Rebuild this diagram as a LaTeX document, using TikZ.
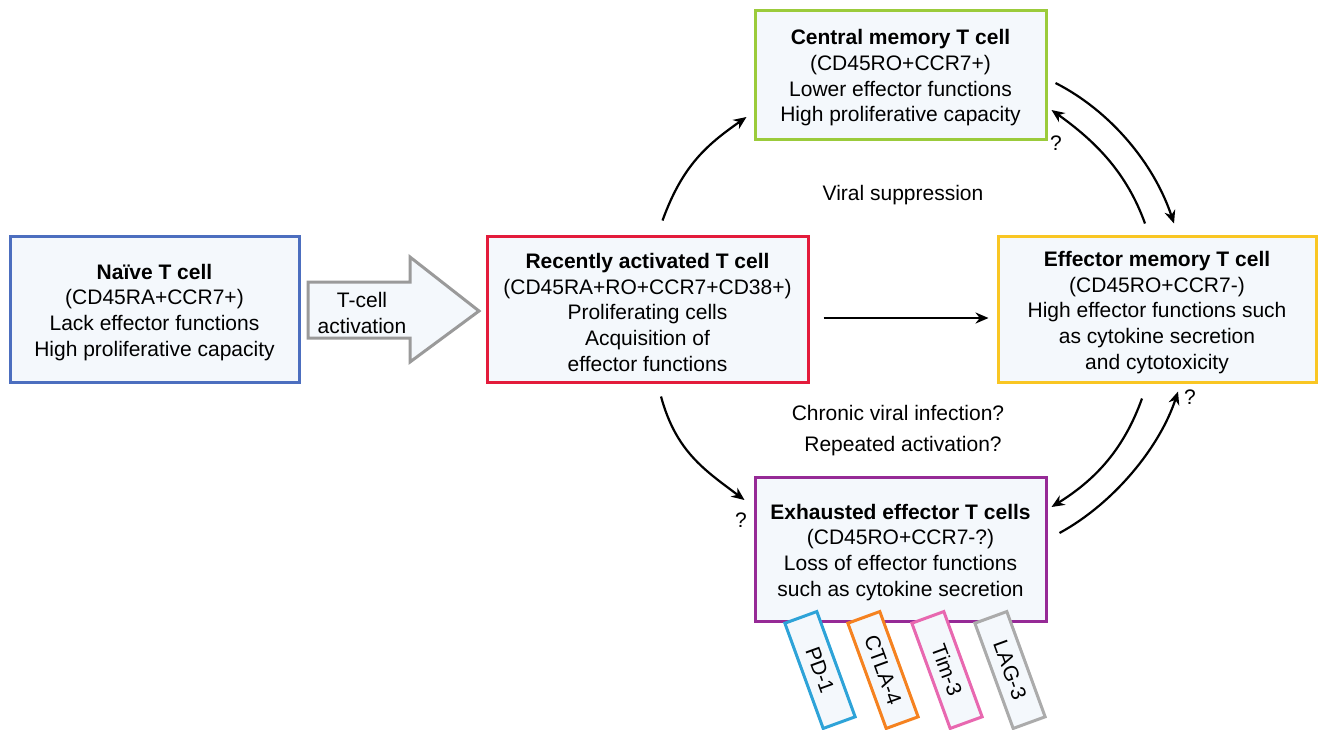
\documentclass[tikz,border=0pt]{standalone}
\usepackage{fontspec}
\setmainfont{Liberation Sans}
\usetikzlibrary{arrows.meta,calc}
\definecolor{cnaive}{HTML}{4C6EBF}
\definecolor{cred}{HTML}{E31B3B}
\definecolor{cgreen}{HTML}{9BCB3B}
\definecolor{cyellow}{HTML}{F9C623}
\definecolor{cpurple}{HTML}{962A96}
\definecolor{cfill}{HTML}{F4F8FC}
\definecolor{cgray}{HTML}{9A9A9A}
\definecolor{cpd}{HTML}{2EA3D8}
\definecolor{cctla}{HTML}{F58220}
\definecolor{ctim}{HTML}{E868B0}
\definecolor{clag}{HTML}{ABABAB}
\newcommand{\topstrut}{\rule{0pt}{22pt}}
\begin{document}
\begin{tikzpicture}[x=1pt,y=-1pt,
  box/.style={draw, line width=3pt, fill=cfill, align=center, inner sep=0pt, font=\fontsize{21}{25.7}\selectfont},
  arr/.style={line width=2.2pt, -{Stealth[length=13pt,width=11pt]}},
  lbl/.style={font=\fontsize{21}{25.5}\selectfont, inner sep=0pt, align=center},
  rcp/.style={draw, line width=3pt, fill=cfill, rotate=-70, minimum width=112pt, minimum height=34pt, inner sep=0pt, font=\fontsize{21}{25}\selectfont},
  bigarrow/.style={draw=cgray, line width=3pt, fill=cfill, line join=miter}]
\useasboundingbox (0,0) rectangle (1322,729);

% boxes
\node[box, draw=cnaive, minimum width=289pt, minimum height=146pt] (naive) at (154.5,309)
  {\topstrut\textbf{Naïve T cell}\\(CD45RA+CCR7+)\\Lack effector functions\\High proliferative capacity};
\node[box, draw=cred, minimum width=321pt, minimum height=146pt] (rec) at (647.5,309)
  {\topstrut\textbf{Recently activated T cell}\\(CD45RA+RO+CCR7+CD38+)\\Proliferating cells\\Acquisition of\\effector functions};
\node[box, draw=cgreen, minimum width=291pt, minimum height=129pt] (cen) at (900.5,74.5)
  {\topstrut\textbf{Central memory T cell}\\(CD45RO+CCR7+)\\Lower effector functions\\High proliferative capacity};
\node[box, draw=cyellow, minimum width=318pt, minimum height=146pt] (eff) at (1157,309)
  {\topstrut\textbf{Effector memory T cell}\\(CD45RO+CCR7-)\\High effector functions such\\as cytokine secretion\\and cytotoxicity};
\node[box, draw=cpurple, minimum width=291pt, minimum height=144pt] (exh) at (900.5,549)
  {\topstrut\textbf{Exhausted effector T cells}\\(CD45RO+CCR7-?)\\Loss of effector functions\\such as cytokine secretion};

% receptors
\node[rcp, draw=cpd] (pd) at (820,670) {PD-1};
\node[rcp, draw=cctla] (ctla) at (883,670) {CTLA-4};
\node[rcp, draw=ctim] (tim) at (947,670) {Tim-3};
\node[rcp, draw=clag] (lag) at (1010,670) {LAG-3};

% T-cell activation big arrow
\draw[bigarrow] (308,282) -- (410,282) -- (410,257) -- (479,311) -- (410,362) -- (410,338) -- (308,338) -- cycle;
\node[lbl] (act) at (362,313) {T-cell\\activation};

% connectors
\draw[arr] ($(rec.north)+(15,-14)$) .. controls +(20,-55) and +(-40,28) .. ($(cen.west)+(-7,42.5)$);
\draw[arr] ($(rec.east)+(14,9)$) -- ($(eff.west)+(-8,9)$);
\draw[arr] ($(rec.south)+(13.5,13)$) .. controls +(15,55) and +(-40,-30) .. ($(exh.west)+(-9,-49)$);
\draw[arr] ($(cen.east)+(8,8.5)$) .. controls +(55,28) and +(-20,-60) .. ($(eff.north)+(17,-11)$);
\draw[arr] ($(eff.north)+(-12,-11)$) .. controls +(-18,-50) and +(45,32) .. ($(cen.east)+(4,35.5)$);
\draw[arr] ($(eff.south)+(-15,15)$) .. controls +(-18,50) and +(45,-28) .. ($(exh.east)+(4,-42)$);
\draw[arr] ($(exh.east)+(12,-16)$) .. controls +(55,-30) and +(-18,55) .. ($(eff.south)+(21,8)$);

% labels
\node[lbl] (q1) at (1056,143) {?};
\node[lbl] (q2) at (1190,397) {?};
\node[lbl] (q3) at (741,520) {?};
\node[lbl] (vs) at (903,195) {Viral suppression};
\node[lbl] (cvi) at (898,413) {Chronic viral infection?};
\node[lbl] (ra) at (903,446) {Repeated activation?};
\end{tikzpicture}
\end{document}
